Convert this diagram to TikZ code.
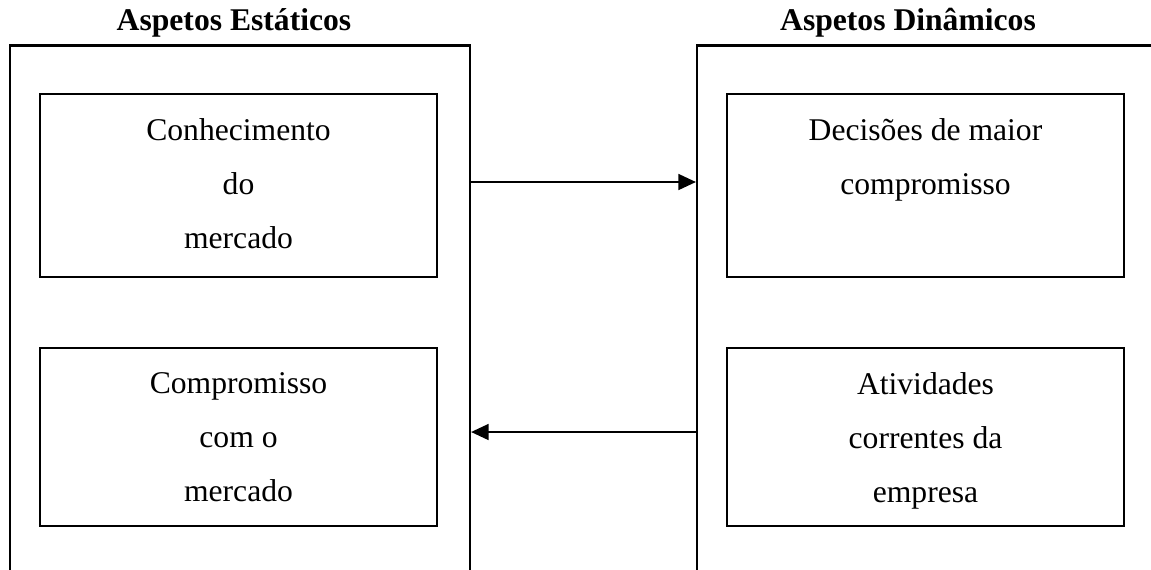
\documentclass[tikz,border=0pt]{standalone}
\usepackage{fontspec}
\setmainfont{Liberation Serif}
\usetikzlibrary{arrows.meta, positioning}

\begin{document}
\begin{tikzpicture}[x=0.02cm, y=-0.02cm, line width=1.25pt,
  outer/.style={draw, minimum width=9.2cm, minimum height=11.5cm, inner sep=0pt},
  inbox/.style={draw, minimum width=7.94cm, inner sep=0pt},
  txt/.style={align=center, inner sep=0pt, font=\fontsize{18}{30.5}\selectfont},
  title/.style={anchor=base, inner sep=0pt, font=\fontsize{18}{22}\selectfont\bfseries},
  flow/.style={-{Triangle[length=10pt, width=9pt]}}]

\clip (0,0) rectangle (1151,569);

% open frames, cut at the lower edge
\node[outer] (static) at (240, 333) {};
\node[outer, minimum width=9.18cm] (dynamic) at (926.5, 333) {};

\node[title] (staticTitle) at (234, 30) {Aspetos Estáticos};
\node[title] (dynamicTitle) at (908, 30) {Aspetos Dinâmicos};

\node[inbox, minimum height=3.66cm] (know) at (238.5, 185.5) {};
\node[txt, below=0.5cm of know.north] (knowTxt) {Conhecimento\\do\\mercado};

\node[inbox, minimum height=3.56cm] (commit) at (238.5, 437) {};
\node[txt, below=0.5cm of commit.north] (commitTxt) {Compromisso\\com o\\mercado};

\node[inbox, minimum height=3.66cm] (decide) at (925.5, 185.5) {};
\node[txt, below=0.5cm of decide.north] (decideTxt) {Decisões de maior\\compromisso};

\node[inbox, minimum height=3.56cm] (routine) at (925.5, 437) {};
\node[txt, below=0.5cm of routine.north] (routineTxt) {Atividades\\correntes da\\empresa};

\draw[flow] ([yshift=0.07cm] static.east |- know) -- ([yshift=0.07cm] dynamic.west |- know);
\draw[flow] ([yshift=0.1cm] dynamic.west |- commit) -- ([yshift=0.1cm] static.east |- commit);

\end{tikzpicture}
\end{document}
